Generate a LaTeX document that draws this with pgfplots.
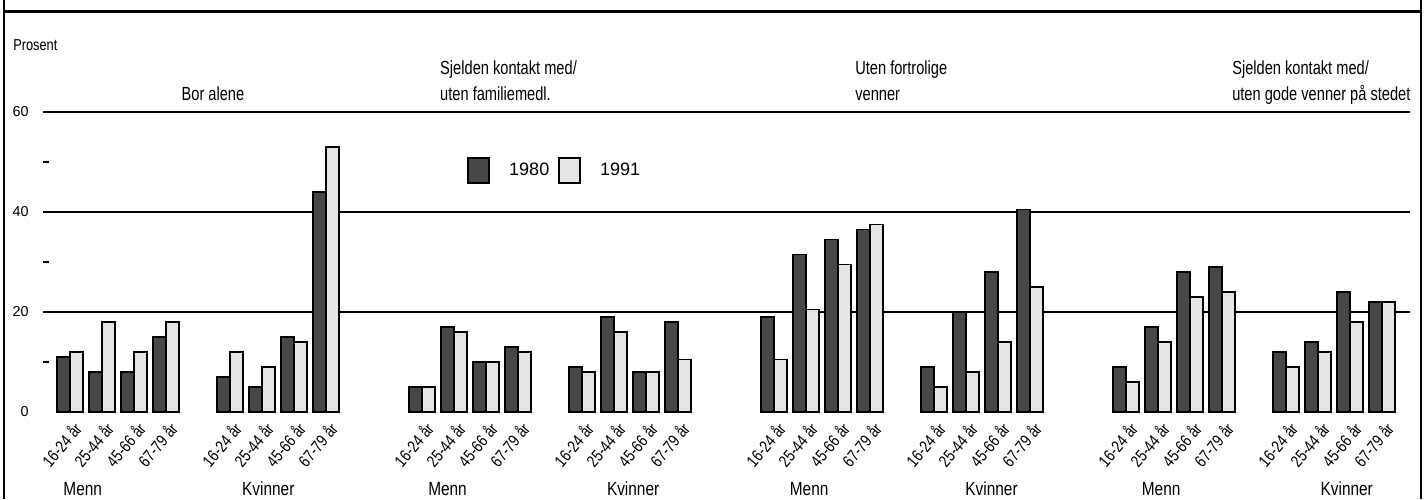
\documentclass[border=0pt]{standalone}
\usepackage{pgfplots}
\pgfplotsset{compat=1.18}
\usepackage{pgfplotstable}
\usepackage{fontspec}
\setmainfont{Liberation Sans}
\newfontfamily\titlefont{Liberation Sans}[FakeStretch=0.81]
\newfontfamily\headfont{Liberation Sans}[FakeStretch=0.77]

% x = slot position (4 age groups Menn, gap, 4 age groups Kvinner, per panel)
\pgfplotstableread{
x y
0 11
1 8
2 8
3 15
5 7
6 5
7 15
8 44
11 5
12 17
13 10
14 13
16 9
17 19
18 8
19 18
22 19
23 31.5
24 34.5
25 36.5
27 9
28 20
29 28
30 40.5
33 9
34 17
35 28
36 29
38 12
39 14
40 24
41 22
}\dataA

\pgfplotstableread{
x y
0 12
1 18
2 12
3 18
5 12
6 9
7 14
8 53
11 5
12 16
13 10
14 12
16 8
17 16
18 8
19 10.5
22 10.5
23 20.5
24 29.5
25 37.5
27 5
28 8
29 14
30 25
33 6
34 14
35 23
36 24
38 9
39 12
40 18
41 22
}\dataB

\newcommand{\fs}[1]{\fontsize{#1}{#1}\selectfont}
\newcommand{\tf}{\headfont\fs{9.5pt}}
\newcommand{\gf}{\titlefont\fs{9.5pt}}

\begin{document}
\begin{tikzpicture}
\useasboundingbox (-21.5pt,-43.5pt) rectangle (692pt,206pt);
\begin{axis}[
  scale only axis,
  width=683.4pt, height=150pt,
  xmin=-0.84, xmax=41.87,
  ymin=0, ymax=60,
  clip=false,
  ybar,
  axis line style={draw=none},
  xtick=data,
  xticklabels={16-24 år,25-44 år,45-66 år,67-79 år,16-24 år,25-44 år,45-66 år,67-79 år,
               16-24 år,25-44 år,45-66 år,67-79 år,16-24 år,25-44 år,45-66 år,67-79 år,
               16-24 år,25-44 år,45-66 år,67-79 år,16-24 år,25-44 år,45-66 år,67-79 år,
               16-24 år,25-44 år,45-66 år,67-79 år,16-24 år,25-44 år,45-66 år,67-79 år},
  xtick style={draw=none},
  xticklabel style={font=\titlefont\fs{8.4pt}, inner sep=0pt, xshift=4.1pt, yshift=-6.5pt, rotate=50, anchor=east},
  ytick={20,40,60},
  extra y ticks={0},
  extra y tick style={grid=none},
  minor ytick={10,30,50},
  ytick pos=left,
  major tick length=0pt,
  minor tick length=3pt,
  tick align=inside,
  minor tick style={line width=0.9pt, black},
  ymajorgrids,
  major grid style={line width=1pt, black},
  yticklabel style={font=\fs{7.2pt}, inner sep=0pt, anchor=east, xshift=-7pt},
  /pgf/number format/assume math mode=true,
  legend columns=2,
  legend style={at={(axis cs:12.41,48.3)}, anchor=west, draw=none, fill=none,
    inner sep=0pt, row sep=0pt, column sep=0pt,
    nodes={inner sep=0pt, anchor=west, font=\fs{9pt}},
    /tikz/every odd column/.append style={column sep=9.5pt},
    /tikz/every even column/.append style={column sep=4.5pt}},
  legend image code/.code={\draw[#1] (0pt,-6.25pt) rectangle (10.5pt,6.25pt);},
]
\addplot[bar width=0.406, bar shift=-0.203, fill=black!72, draw=black, line width=0.9pt] table {\dataA};
\addplot[bar width=0.406, bar shift=0.203, fill=black!10, draw=black, line width=0.9pt] table {\dataB};
\legend{1980,1991}

% panel titles
\node[anchor=base, inner sep=0pt, font=\tf] at (axis cs:4.47,62.3) {Bor alene};
\node[anchor=base west, inner sep=0pt, font=\tf] at (axis cs:11.56,67.6) {Sjelden kontakt med/};
\node[anchor=base west, inner sep=0pt, font=\tf] at (axis cs:11.56,62.3) {uten familiemedl.};
\node[anchor=base west, inner sep=0pt, font=\tf] at (axis cs:24.53,67.6) {Uten fortrolige};
\node[anchor=base west, inner sep=0pt, font=\tf] at (axis cs:24.53,62.3) {venner};
\node[anchor=base west, inner sep=0pt, font=\tf] at (axis cs:36.31,67.6) {Sjelden kontakt med/};
\node[anchor=base west, inner sep=0pt, font=\tf] at (axis cs:36.31,62.3) {uten gode venner på stedet};
% y-axis unit
\node[anchor=base west, inner sep=0pt, font=\titlefont\fs{7.9pt}] at (axis cs:-1.78,72.4) {Prosent};
% group labels
\node[anchor=base, inner sep=0pt, font=\gf] at (axis cs:0.4,-16.6) {Menn};
\node[anchor=base, inner sep=0pt, font=\gf] at (axis cs:6.2,-16.6) {Kvinner};
\node[anchor=base, inner sep=0pt, font=\gf] at (axis cs:11.8,-16.6) {Menn};
\node[anchor=base, inner sep=0pt, font=\gf] at (axis cs:17.6,-16.6) {Kvinner};
\node[anchor=base, inner sep=0pt, font=\gf] at (axis cs:23.1,-16.6) {Menn};
\node[anchor=base, inner sep=0pt, font=\gf] at (axis cs:28.8,-16.6) {Kvinner};
\node[anchor=base, inner sep=0pt, font=\gf] at (axis cs:34.1,-16.6) {Menn};
\node[anchor=base, inner sep=0pt, font=\gf] at (axis cs:39.9,-16.6) {Kvinner};
\end{axis}
% frame
\draw[line width=1pt] (-19.5pt,-43.5pt) -- (-19.5pt,206pt);
\draw[line width=1pt] (689pt,-43.5pt) -- (689pt,206pt);
\draw[line width=1.5pt] (-20pt,200pt) -- (689.5pt,200pt);
\end{tikzpicture}
\end{document}
